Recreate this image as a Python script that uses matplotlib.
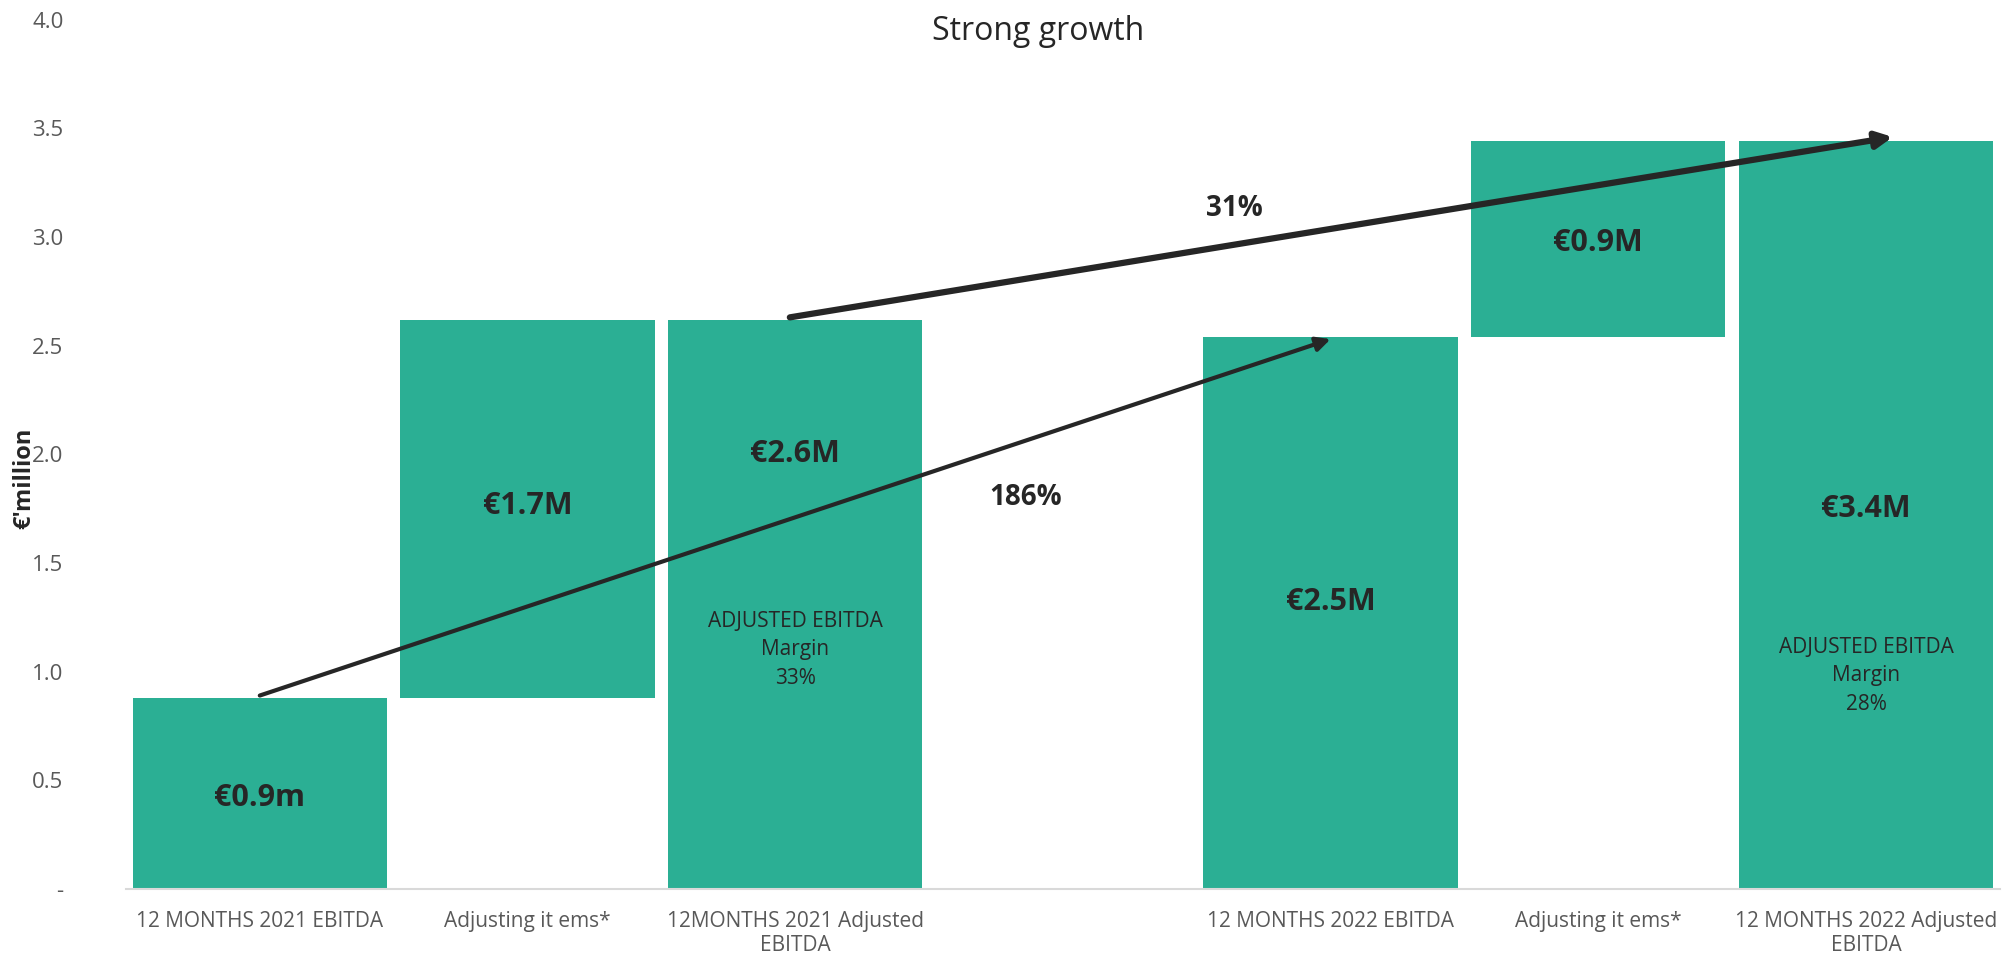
import numpy as np
import matplotlib
matplotlib.use("Agg")
import matplotlib.pyplot as plt

plt.rcParams['font.family'] = ['Liberation Sans Narrow', 'Open Sans', 'DejaVu Sans']

# waterfall data (€ million)
categories = ["12 MONTHS 2021 EBITDA", "Adjusting it ems*", "12MONTHS 2021 Adjusted\nEBITDA", "",
              "12 MONTHS 2022 EBITDA", "Adjusting it ems*", "12 MONTHS 2022 Adjusted\nEBITDA"]
bar_bottom = [0.0, 0.88, 0.0, 0.0, 0.0, 2.54, 0.0]
bar_height = [0.88, 1.74, 2.62, 0.0, 2.54, 0.90, 3.44]
value_suffix = ["m", "M", "M", "", "M", "M", "M"]
label_y = [0.42, 1.76, 2.00, None, 1.32, 2.97, 1.75]
margin_text = {2: "ADJUSTED EBITDA\nMargin\n33%", 6: "ADJUSTED EBITDA\nMargin\n28%"}
margin_y = {2: 1.10, 6: 0.98}

# growth arrows: (x0, y0, x1, y1, label, label_x, label_y, width)
growth = [
    (0.0, 0.89, 4.0, 2.53, "186%", 2.86, 1.80, 3.0),
    (1.98, 2.63, 6.1, 3.46, "31%", 3.64, 3.13, 4.5),
]

teal = "#2BAF94"
grey = "#595959"

fig = plt.figure(figsize=(20.15, 9.67), dpi=100)
ax = fig.add_axes([0.0625, 0.0807, 0.930, 0.899])

x = np.arange(len(categories))
ax.bar(x, bar_height, bottom=bar_bottom, width=0.95, color=teal, zorder=2)

for i, (h, s, ly) in enumerate(zip(bar_height, value_suffix, label_y)):
    if h == 0:
        continue
    ax.text(i, ly, f"€{h:.1f}{s}", ha="center", va="center", fontsize=22,
            fontweight="bold", color="#262626", zorder=4)

for i, t in margin_text.items():
    ax.text(i, margin_y[i], t, ha="center", va="center", fontsize=15,
            color="#262626", linespacing=1.45, zorder=4)

for x0, y0, x1, y1, lab, lx, ly, lw in growth:
    ax.annotate("", xy=(x1, y1), xytext=(x0, y0), zorder=5,
                arrowprops=dict(arrowstyle=f"-|>,head_length={0.6 + lw * 0.08},head_width={0.3 + lw * 0.04}",
                                color="#262626", lw=lw, shrinkA=0, shrinkB=0))
    ax.text(lx, ly, lab, ha="center", va="center", fontsize=20,
            fontweight="bold", color="#262626")

ax.set_xlim(-0.5, 6.5)
ax.set_ylim(0, 4.0)
ax.set_xticks(x)
ax.set_xticklabels(categories, fontsize=15, color=grey)
yt = np.arange(0, 4.01, 0.5)
ax.set_yticks(yt)
ax.set_yticklabels(["-"] + [f"{v:.1f}" for v in yt[1:]], fontsize=16, color=grey)
ax.tick_params(axis="both", length=0)
ax.tick_params(axis="y", pad=45)
ax.tick_params(axis="x", pad=16)
for side in ["top", "right", "left"]:
    ax.spines[side].set_visible(False)
ax.spines["bottom"].set_color("#d9d9d9")
ax.spines["bottom"].set_linewidth(1.5)

fig.text(0.012, 0.505, "€'million", rotation=90, ha="center", va="center",
         fontsize=17, fontweight="bold", color="#262626")
fig.text(0.515, 0.985, "Strong growth", ha="center", va="top", fontsize=23, color="#262626")

fig.savefig("out.png", dpi=100)
